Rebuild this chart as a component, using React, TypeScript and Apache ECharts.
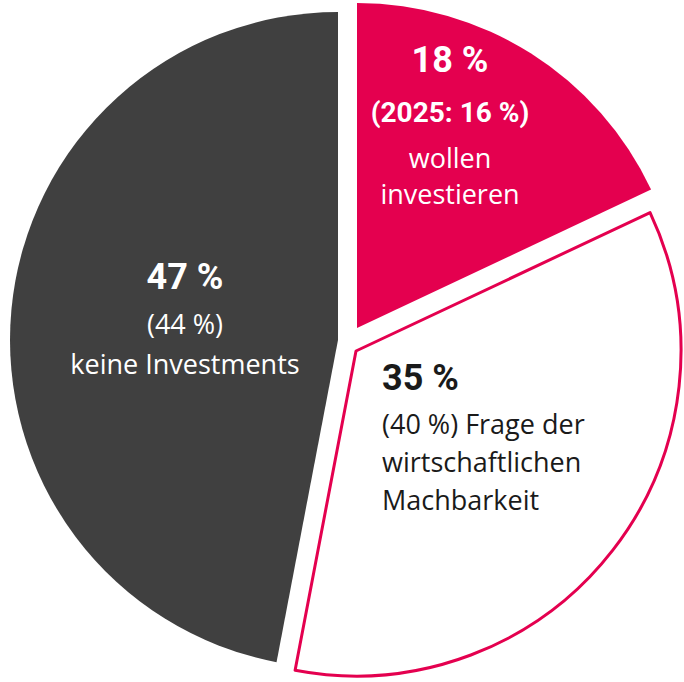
import React, { useEffect, useRef } from "react";
import * as echarts from "echarts";

const categories = ["wollen investieren", "Frage der wirtschaftlichen Machbarkeit", "keine Investments"];
const values = [18, 35, 47];
const previous = ["2025: 16 %", "40 %", "44 %"];

const RED = "#e4004f";
const DARK = "#404040";

export default function App() {
  const ref = useRef<HTMLDivElement>(null);
  useEffect(() => {
    document.body.style.margin = "0";
    const chart = echarts.init(ref.current!, null, { renderer: "svg" });
    const REG = 27;
    const labelStyles = [
      {
        color: "#ffffff",
        rich: {
          a: { fontFamily: "Roboto", fontWeight: "bold", fontSize: 36, lineHeight: 50, color: "#fff", align: "center" },
          b: { fontFamily: "Roboto", fontWeight: "bold", fontSize: 28, lineHeight: 54, color: "#fff", align: "center" },
          c: { fontFamily: "Open Sans", fontSize: REG, lineHeight: 36, color: "#fff", align: "center" },
        },
        formatter: () => `{a|${values[0]} %}\n{b|(${previous[0]})}\n{c|wollen}\n{c|investieren}`,
      },
      {
        color: "#1a1a1a",
        rich: {
          a: { fontFamily: "Roboto", fontWeight: "bold", fontSize: 36, lineHeight: 52, color: "#1a1a1a", align: "left" },
          c: { fontFamily: "Open Sans", fontSize: REG, lineHeight: 38, color: "#1a1a1a", align: "left" },
        },
        formatter: () => `{a|${values[1]} %}\n{c|(${previous[1]}) Frage der}\n{c|wirtschaftlichen}\n{c|Machbarkeit}`,
      },
      {
        color: "#ffffff",
        rich: {
          a: { fontFamily: "Roboto", fontWeight: "bold", fontSize: 36, lineHeight: 48, color: "#fff", align: "center" },
          b: { fontFamily: "Open Sans", fontSize: REG, lineHeight: 44, color: "#fff", align: "center" },
          c: { fontFamily: "Open Sans", fontSize: REG, lineHeight: 36, color: "#fff", align: "center" },
        },
        formatter: () => `{a|${values[2]} %}\n{b|(${previous[2]})}\n{c|keine Investments}`,
      },
    ];
    const itemStyles = [
      { color: RED, borderWidth: 0 },
      { color: "#ffffff", borderColor: RED, borderWidth: 3 },
      { color: DARK, borderWidth: 0 },
    ];
    const labelPos = [
      { x: 450, y: 35, align: "center" },
      { x: 382, y: 352, align: "left" },
      { x: 185, y: 253, align: "center" },
    ];
    // apex and radius of each exploded slice
    const apex = [
      [357, 328],
      [356, 351],
      [338, 340],
    ];
    const radii = [325, 325, 328];
    const series = values.map((_, i) => ({
      type: "pie",
      center: apex[i],
      radius: [0, radii[i]],
      startAngle: 90,
      clockwise: true,
      avoidLabelOverlap: false,
      emphasis: { disabled: true },
      labelLine: { show: false },
      labelLayout: (params: any) =>
        params.dataIndex === i
          ? { x: labelPos[i].x, y: labelPos[i].y, align: labelPos[i].align, verticalAlign: "top" }
          : {},
      data: categories.map((name, j) => ({
        name,
        value: values[j],
        itemStyle: j === i ? itemStyles[j] : { color: "rgba(0,0,0,0)", borderWidth: 0 },
        label: j === i ? { show: true, position: "inside", ...labelStyles[j] } : { show: false },
      })),
    }));
    chart.setOption({ animation: false, series });
    return () => chart.dispose();
  }, []);
  return <div ref={ref} style={{ width: 684, height: 682 }} />;
}
